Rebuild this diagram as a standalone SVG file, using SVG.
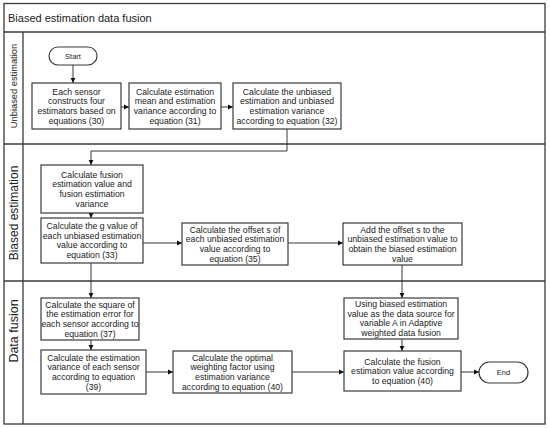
<svg xmlns="http://www.w3.org/2000/svg" width="550" height="428" viewBox="0 0 550 428">
<defs>
<marker id="arr" markerWidth="6" markerHeight="6" refX="5" refY="3" orient="auto" markerUnits="userSpaceOnUse">
<path d="M0,0.6 L5,3 L0,5.4 Z" fill="#111"/>
</marker>
<style>
.lane{fill:none;stroke:#3a3a3a;stroke-width:1.3}
.box{fill:#fff;stroke:#3a3a3a;stroke-width:1.2}
.t{font-family:"Liberation Sans",Arial,sans-serif;font-size:8.7px;fill:#1a1a1a;text-anchor:middle}
.se{font-family:"Liberation Sans",Arial,sans-serif;font-size:7.5px;fill:#1a1a1a;text-anchor:middle}
.lbl{font-family:"Liberation Sans",Arial,sans-serif;fill:#1a1a1a;text-anchor:middle}
.c{fill:none;stroke:#222;stroke-width:0.9}
</style>
</defs>
<rect width="550" height="428" fill="#fff"/>
<g id="pool">
<rect class="lane" x="4" y="3.5" width="541" height="420.5"/>
<line class="lane" x1="4" y1="32" x2="545" y2="32"/>
<line class="lane" x1="4" y1="144" x2="545" y2="144"/>
<line class="lane" x1="4" y1="281" x2="545" y2="281"/>
<line class="lane" x1="23" y1="32" x2="23" y2="424"/>
<text class="lbl" x="8" y="21.5" style="text-anchor:start;font-size:11px">Biased estimation data fusion</text>
<text class="lbl" transform="translate(16.5,86) rotate(-90)" style="font-size:9.3px">Unbiased estimation</text>
<text class="lbl" transform="translate(18,213) rotate(-90)" style="font-size:12px">Biased estimation</text>
<text class="lbl" transform="translate(18,331) rotate(-90)" style="font-size:12.5px">Data fusion</text>
</g>
<g id="connectors">
<line class="c" x1="73" y1="65" x2="73" y2="83" marker-end="url(#arr)"/>
<line class="c" x1="121" y1="107" x2="129" y2="107" marker-end="url(#arr)"/>
<line class="c" x1="221" y1="107" x2="233" y2="107" marker-end="url(#arr)"/>
<polyline class="c" points="287,129 287,151 91,151 91,165" marker-end="url(#arr)"/>
<line class="c" x1="91" y1="213" x2="91" y2="218" marker-end="url(#arr)"/>
<line class="c" x1="143" y1="243" x2="182" y2="243" marker-end="url(#arr)"/>
<line class="c" x1="288" y1="243" x2="343" y2="243" marker-end="url(#arr)"/>
<line class="c" x1="91" y1="263" x2="91" y2="298" marker-end="url(#arr)"/>
<line class="c" x1="91" y1="340" x2="91" y2="350" marker-end="url(#arr)"/>
<line class="c" x1="146" y1="372" x2="173" y2="372" marker-end="url(#arr)"/>
<line class="c" x1="292" y1="372" x2="344" y2="372" marker-end="url(#arr)"/>
<line class="c" x1="402" y1="265" x2="402" y2="298" marker-end="url(#arr)"/>
<line class="c" x1="402" y1="339" x2="402" y2="351" marker-end="url(#arr)"/>
<line class="c" x1="461" y1="372" x2="479" y2="372" marker-end="url(#arr)"/>
</g>
<g id="start">
<rect class="box" x="49" y="47" width="48" height="18" rx="9" ry="9"/>
<text class="se" x="73" y="58.7">Start</text>
</g>
<g id="n1">
<rect class="box" x="32" y="83" width="89" height="46"/>
<text class="t" x="76.5" y="94.7">Each sensor<tspan x="76.5" dy="9.6">constructs four</tspan><tspan x="76.5" dy="9.6">estimators based on</tspan><tspan x="76.5" dy="9.6">equations (30)</tspan></text>
</g>
<g id="n2">
<rect class="box" x="129" y="83" width="92" height="46"/>
<text class="t" x="175" y="94.7">Calculate estimation<tspan x="175" dy="9.6">mean  and estimation</tspan><tspan x="175" dy="9.6">variance  according to</tspan><tspan x="175" dy="9.6">equation (31)</tspan></text>
</g>
<g id="n3">
<rect class="box" x="233" y="83" width="108" height="46"/>
<text class="t" x="287" y="94.7">Calculate the unbiased<tspan x="287" dy="9.6">estimation and unbiased</tspan><tspan x="287" dy="9.6">estimation variance</tspan><tspan x="287" dy="9.6">according to equation (32)</tspan></text>
</g>
<g id="n4">
<rect class="box" x="41" y="165" width="102" height="48"/>
<text class="t" x="92" y="177.7">Calculate  fusion<tspan x="92" dy="9.6">estimation value and</tspan><tspan x="92" dy="9.6">fusion estimation</tspan><tspan x="92" dy="9.6">variance</tspan></text>
</g>
<g id="n5">
<rect class="box" x="41" y="218" width="102" height="45"/>
<text class="t" x="92" y="229.2">Calculate the g value of<tspan x="92" dy="9.6">each unbiased estimation</tspan><tspan x="92" dy="9.6">value according to</tspan><tspan x="92" dy="9.6">equation (33)</tspan></text>
</g>
<g id="n6">
<rect class="box" x="182" y="223" width="106" height="42"/>
<text class="t" x="235" y="232.7">Calculate the offset s of<tspan x="235" dy="9.6">each unbiased estimation</tspan><tspan x="235" dy="9.6">value according to</tspan><tspan x="235" dy="9.6">equation (35)</tspan></text>
</g>
<g id="n7">
<rect class="box" x="343" y="223" width="119" height="42"/>
<text class="t" x="402.5" y="232.7">Add the offset s to the<tspan x="402.5" dy="9.6">unbiased estimation value to</tspan><tspan x="402.5" dy="9.6">obtain the biased estimation</tspan><tspan x="402.5" dy="9.6">value</tspan></text>
</g>
<g id="n8">
<rect class="box" x="41" y="298" width="98" height="42"/>
<text class="t" x="90" y="307.7">Calculate the square of<tspan x="90" dy="9.6">the estimation error for</tspan><tspan x="90" dy="9.6">each sensor according to</tspan><tspan x="90" dy="9.6">equation (37)</tspan></text>
</g>
<g id="n9">
<rect class="box" x="41" y="350" width="105" height="44"/>
<text class="t" x="93.5" y="360.7">Calculate the estimation<tspan x="93.5" dy="9.6">variance of each sensor</tspan><tspan x="93.5" dy="9.6">according to equation</tspan><tspan x="93.5" dy="9.6">(39)</tspan></text>
</g>
<g id="n10">
<rect class="box" x="173" y="351" width="119" height="42"/>
<text class="t" x="232.5" y="360.7">Calculate the optimal<tspan x="232.5" dy="9.6">weighting factor using</tspan><tspan x="232.5" dy="9.6">estimation variance</tspan><tspan x="232.5" dy="9.6">according to equation (40)</tspan></text>
</g>
<g id="n11">
<rect class="box" x="344" y="298" width="114" height="41"/>
<text class="t" x="401" y="307.2">Using biased estimation<tspan x="401" dy="9.6">value as the data source for</tspan><tspan x="401" dy="9.6">variable A in Adaptive</tspan><tspan x="401" dy="9.6">weighted data fusion</tspan></text>
</g>
<g id="n12">
<rect class="box" x="344" y="351" width="117" height="40"/>
<text class="t" x="402.5" y="364.5">Calculate the fusion<tspan x="402.5" dy="9.6">estimation value according</tspan><tspan x="402.5" dy="9.6">to equation (40)</tspan></text>
</g>
<g id="end">
<rect class="box" x="479" y="362" width="49" height="21" rx="10.5" ry="10.5"/>
<text class="se" x="503.5" y="375.2">End</text>
</g>
</svg>
